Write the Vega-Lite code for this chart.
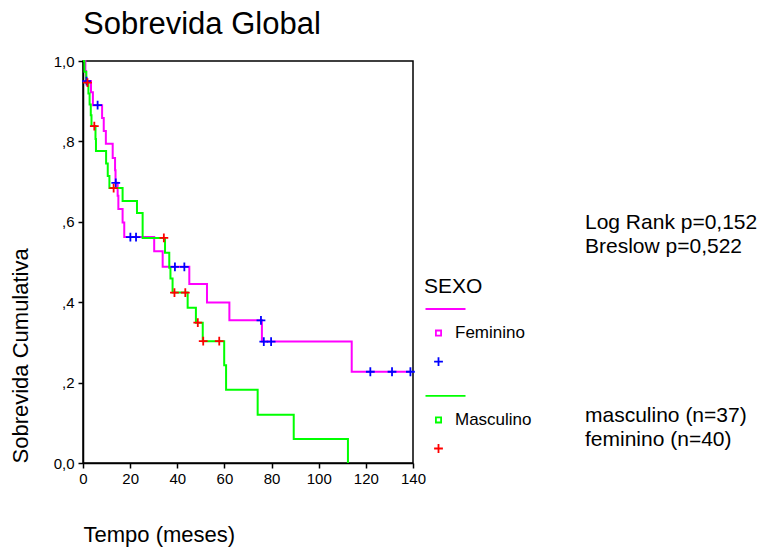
{
  "$schema": "https://vega.github.io/schema/vega-lite/v6.json",
  "background": "white",
  "padding": {"left": 8, "top": 8, "right": 5, "bottom": 5},
  "config": {
    "font": "Liberation Sans",
    "view": {"stroke": null},
    "axis": {
      "domainColor": "black", "domainWidth": 1.5,
      "tickColor": "black", "tickWidth": 1.5, "tickSize": 5,
      "labelColor": "black", "labelFont": "Liberation Sans", "labelFontSize": 15,
      "titleColor": "black", "titleFont": "Liberation Sans", "titleFontSize": 22, "titleFontWeight": "normal",
      "grid": false, "labelFlush": false, "labelOverlap": false
    }
  },
  "datasets": {
    "curvas": [
      {"serie": "Feminino – curva", "tempo": 0, "sobrevida": 1},
      {"serie": "Feminino – curva", "tempo": 1.0, "sobrevida": 0.975},
      {"serie": "Feminino – curva", "tempo": 1.3, "sobrevida": 0.95},
      {"serie": "Feminino – curva", "tempo": 3.4, "sobrevida": 0.922},
      {"serie": "Feminino – curva", "tempo": 4.2, "sobrevida": 0.89},
      {"serie": "Feminino – curva", "tempo": 8.1, "sobrevida": 0.858},
      {"serie": "Feminino – curva", "tempo": 8.8, "sobrevida": 0.826},
      {"serie": "Feminino – curva", "tempo": 9.7, "sobrevida": 0.794},
      {"serie": "Feminino – curva", "tempo": 12.6, "sobrevida": 0.759},
      {"serie": "Feminino – curva", "tempo": 13.6, "sobrevida": 0.728},
      {"serie": "Feminino – curva", "tempo": 13.8, "sobrevida": 0.697},
      {"serie": "Feminino – curva", "tempo": 14.7, "sobrevida": 0.665},
      {"serie": "Feminino – curva", "tempo": 15.0, "sobrevida": 0.632},
      {"serie": "Feminino – curva", "tempo": 16.8, "sobrevida": 0.598},
      {"serie": "Feminino – curva", "tempo": 17.5, "sobrevida": 0.562},
      {"serie": "Feminino – curva", "tempo": 30.2, "sobrevida": 0.527},
      {"serie": "Feminino – curva", "tempo": 33.8, "sobrevida": 0.488},
      {"serie": "Feminino – curva", "tempo": 45.1, "sobrevida": 0.445},
      {"serie": "Feminino – curva", "tempo": 52.6, "sobrevida": 0.399},
      {"serie": "Feminino – curva", "tempo": 62.1, "sobrevida": 0.355},
      {"serie": "Feminino – curva", "tempo": 75.9, "sobrevida": 0.302},
      {"serie": "Feminino – curva", "tempo": 114.0, "sobrevida": 0.227},
      {"serie": "Feminino – curva", "tempo": 139.0, "sobrevida": 0.227},
      {"serie": "Masculino – curva", "tempo": 0, "sobrevida": 1},
      {"serie": "Masculino – curva", "tempo": 0.6, "sobrevida": 0.973},
      {"serie": "Masculino – curva", "tempo": 1.4, "sobrevida": 0.946},
      {"serie": "Masculino – curva", "tempo": 2.3, "sobrevida": 0.919},
      {"serie": "Masculino – curva", "tempo": 2.8, "sobrevida": 0.892},
      {"serie": "Masculino – curva", "tempo": 3.3, "sobrevida": 0.865},
      {"serie": "Masculino – curva", "tempo": 3.6, "sobrevida": 0.838},
      {"serie": "Masculino – curva", "tempo": 5.3, "sobrevida": 0.806},
      {"serie": "Masculino – curva", "tempo": 5.5, "sobrevida": 0.776},
      {"serie": "Masculino – curva", "tempo": 9.8, "sobrevida": 0.745},
      {"serie": "Masculino – curva", "tempo": 10.5, "sobrevida": 0.714},
      {"serie": "Masculino – curva", "tempo": 11.2, "sobrevida": 0.684},
      {"serie": "Masculino – curva", "tempo": 16.8, "sobrevida": 0.652},
      {"serie": "Masculino – curva", "tempo": 22.9, "sobrevida": 0.622},
      {"serie": "Masculino – curva", "tempo": 25.3, "sobrevida": 0.56},
      {"serie": "Masculino – curva", "tempo": 34.8, "sobrevida": 0.523},
      {"serie": "Masculino – curva", "tempo": 36.6, "sobrevida": 0.486},
      {"serie": "Masculino – curva", "tempo": 37.1, "sobrevida": 0.459},
      {"serie": "Masculino – curva", "tempo": 38.0, "sobrevida": 0.424},
      {"serie": "Masculino – curva", "tempo": 44.4, "sobrevida": 0.386},
      {"serie": "Masculino – curva", "tempo": 47.9, "sobrevida": 0.349},
      {"serie": "Masculino – curva", "tempo": 50.8, "sobrevida": 0.303},
      {"serie": "Masculino – curva", "tempo": 59.9, "sobrevida": 0.243},
      {"serie": "Masculino – curva", "tempo": 60.7, "sobrevida": 0.182},
      {"serie": "Masculino – curva", "tempo": 74.1, "sobrevida": 0.12},
      {"serie": "Masculino – curva", "tempo": 89.4, "sobrevida": 0.06},
      {"serie": "Masculino – curva", "tempo": 112.4, "sobrevida": 0}
    ],
    "censuras": [
      {"serie": "Feminino – censura", "tempo": 1.5, "sobrevida": 0.95},
      {"serie": "Feminino – censura", "tempo": 6.2, "sobrevida": 0.89},
      {"serie": "Feminino – censura", "tempo": 13.9, "sobrevida": 0.697},
      {"serie": "Feminino – censura", "tempo": 20.1, "sobrevida": 0.562},
      {"serie": "Feminino – censura", "tempo": 22.5, "sobrevida": 0.562},
      {"serie": "Feminino – censura", "tempo": 39.0, "sobrevida": 0.488},
      {"serie": "Feminino – censura", "tempo": 43.0, "sobrevida": 0.488},
      {"serie": "Feminino – censura", "tempo": 75.5, "sobrevida": 0.355},
      {"serie": "Feminino – censura", "tempo": 76.7, "sobrevida": 0.302},
      {"serie": "Feminino – censura", "tempo": 79.8, "sobrevida": 0.302},
      {"serie": "Feminino – censura", "tempo": 121.9, "sobrevida": 0.227},
      {"serie": "Feminino – censura", "tempo": 131.1, "sobrevida": 0.227},
      {"serie": "Feminino – censura", "tempo": 138.9, "sobrevida": 0.227},
      {"serie": "Masculino – censura", "tempo": 1.9, "sobrevida": 0.946},
      {"serie": "Masculino – censura", "tempo": 4.8, "sobrevida": 0.838},
      {"serie": "Masculino – censura", "tempo": 13.0, "sobrevida": 0.684},
      {"serie": "Masculino – censura", "tempo": 34.3, "sobrevida": 0.56},
      {"serie": "Masculino – censura", "tempo": 38.8, "sobrevida": 0.424},
      {"serie": "Masculino – censura", "tempo": 43.4, "sobrevida": 0.424},
      {"serie": "Masculino – censura", "tempo": 48.7, "sobrevida": 0.349},
      {"serie": "Masculino – censura", "tempo": 51.0, "sobrevida": 0.303},
      {"serie": "Masculino – censura", "tempo": 57.8, "sobrevida": 0.303}
    ],
    "anotacoes": [
      {"bloco": "testes", "texto": "Log Rank p=0,152\nBreslow p=0,522"},
      {"bloco": "amostra", "texto": "masculino (n=37)\nfeminino (n=40)"}
    ]
  },
  "hconcat": [
    {
      "width": 330,
      "height": 402,
      "title": {"text": "Sobrevida Global", "anchor": "start", "frame": "group", "fontSize": 31, "fontWeight": "normal", "font": "Liberation Sans", "color": "black", "offset": 13},
      "view": {"stroke": "black", "strokeWidth": 1.5},
      "encoding": {
        "x": {
          "field": "tempo", "type": "quantitative",
          "scale": {"domain": [0, 140], "nice": false},
          "axis": {"title": "Tempo (meses)", "values": [0, 20, 40, 60, 80, 100, 120, 140], "titleAnchor": "start", "titlePadding": 38, "labelPadding": 3}
        },
        "y": {
          "field": "sobrevida", "type": "quantitative",
          "scale": {"domain": [0, 1], "nice": false},
          "axis": {
            "title": "Sobrevida Cumulativa", "values": [0, 0.2, 0.4, 0.6, 0.8, 1],
            "labelExpr": "datum.value == 0 ? '0,0' : datum.value == 1 ? '1,0' : ',' + format(datum.value * 10, '.0f')",
            "titleAnchor": "start", "titlePadding": 21, "labelPadding": 4
          }
        }
      },
      "layer": [
        {
          "data": {"name": "curvas"},
          "mark": {"type": "line", "interpolate": "step-after", "strokeWidth": 2},
          "encoding": {
            "color": {
              "field": "serie", "type": "nominal",
              "scale": {
                "domain": ["Feminino – curva", "Feminino", "Feminino – censura", "Masculino – curva", "Masculino", "Masculino – censura"],
                "range": ["#ff00ff", "#ff00ff", "#0000ff", "#00ff00", "#00ff00", "#ff0000"]
              },
              "legend": {
                "title": "SEXO", "orient": "none", "legendX": 341, "legendY": 215,
                "titleFontSize": 21, "titleFontWeight": "normal", "titleColor": "black", "titleFont": "Liberation Sans", "titlePadding": -2,
                "labelFontSize": 17, "labelColor": "black", "labelFont": "Liberation Sans",
                "labelExpr": "datum.value == 'Feminino' || datum.value == 'Masculino' ? datum.value : ''",
                "symbolSize": 64, "symbolStrokeWidth": 1.8, "symbolOffset": 6, "labelOffset": 8, "rowPadding": 10.6,
                "symbolFillColor": "transparent"
              }
            }
          }
        },
        {
          "data": {"name": "censuras"},
          "mark": {"type": "point", "filled": false, "size": 64, "strokeWidth": 1.8, "opacity": 1},
          "encoding": {
            "color": {
              "field": "serie", "type": "nominal",
              "legend": {
                "title": "SEXO", "orient": "none", "legendX": 341, "legendY": 215,
                "titleFontSize": 21, "titleFontWeight": "normal", "titleColor": "black", "titleFont": "Liberation Sans", "titlePadding": -2,
                "labelFontSize": 17, "labelColor": "black", "labelFont": "Liberation Sans",
                "labelExpr": "datum.value == 'Feminino' || datum.value == 'Masculino' ? datum.value : ''",
                "symbolSize": 64, "symbolStrokeWidth": 1.8, "symbolOffset": 6, "labelOffset": 8, "rowPadding": 10.6,
                "symbolFillColor": "transparent"
              }
            },
            "shape": {
              "field": "serie", "type": "nominal",
              "scale": {
                "domain": ["Feminino – curva", "Feminino", "Feminino – censura", "Masculino – curva", "Masculino", "Masculino – censura"],
                "range": ["M-3.25,1.375H6.75", "M-0.65,-0.65H0.65V0.65H-0.65Z", "M-1.1,0H1.1M0,-1.1V1.1", "M-3.25,1.375H6.75", "M-0.65,-0.65H0.65V0.65H-0.65Z", "M-1.1,0H1.1M0,-1.1V1.1"]
              },
              "legend": {
                "title": "SEXO", "orient": "none", "legendX": 341, "legendY": 215,
                "titleFontSize": 21, "titleFontWeight": "normal", "titleColor": "black", "titleFont": "Liberation Sans", "titlePadding": -2,
                "labelFontSize": 17, "labelColor": "black", "labelFont": "Liberation Sans",
                "labelExpr": "datum.value == 'Feminino' || datum.value == 'Masculino' ? datum.value : ''",
                "symbolSize": 64, "symbolStrokeWidth": 1.8, "symbolOffset": 6, "labelOffset": 8, "rowPadding": 10.6,
                "symbolFillColor": "transparent"
              }
            }
          }
        }
      ]
    },
    {
      "width": 2,
      "height": 402,
      "data": {"name": "anotacoes"},
      "mark": {"type": "text", "align": "left", "baseline": "middle", "lineBreak": "\n", "fontSize": 21, "lineHeight": 24, "font": "Liberation Sans", "color": "black"},
      "encoding": {
        "y": {"field": "bloco", "type": "nominal", "sort": null, "scale": {"type": "point", "padding": 0.54, "align": 0.775}, "axis": null},
        "text": {"field": "texto"}
      }
    }
  ],
  "spacing": 157
}
